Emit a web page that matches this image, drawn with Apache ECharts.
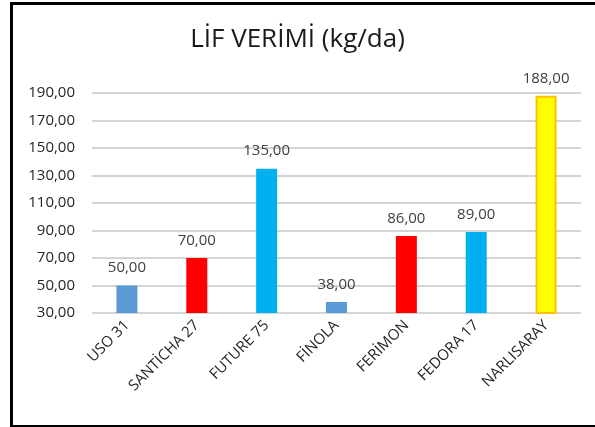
<!DOCTYPE html>
<html>
<head>
<meta charset="utf-8">
<script src="https://cdn.jsdelivr.net/npm/echarts@6/dist/echarts.min.js"></script>
<style>
  html, body { margin: 0; padding: 0; background: #fff; }
  #frame { position: absolute; left: 10px; top: 2px; width: 600px; height: 420px;
           border-left: 3px solid #000; border-top: 3px solid #000; border-bottom: 3px solid #000; }
  #chart { position: absolute; left: 0; top: 0; width: 595px; height: 427px; }
</style>
</head>
<body>
<div id="frame"></div>
<div id="chart"></div>
<script>
// Fibre yield per variety (kg/da)
const varieties = ['USO 31', 'SANTİCHA 27', 'FUTURE 75', 'FİNOLA', 'FERİMON', 'FEDORA 17', 'NARLISARAY'];
const yields = [50, 70, 135, 38, 86, 89, 188];
const barColors = ['#5B9BD5', '#FF0000', '#00B0F0', '#5B9BD5', '#FF0000', '#00B0F0', '#FFFF00'];
const barBorders = [null, null, null, null, null, null, '#FFC000'];

const fmt = v => v.toFixed(2).replace('.', ',');
const FONT = '"Open Sans", "Noto Sans", sans-serif';

const chart = echarts.init(document.getElementById('chart'), null, { renderer: 'canvas' });
chart.setOption({
  animation: false,
  title: {
    text: 'LİF VERİMİ (kg/da)',
    left: 'center',
    top: 22,
    textStyle: { fontFamily: FONT, fontSize: 26, fontWeight: 'normal', color: '#1a1a1a' }
  },
  grid: { left: 92, right: 14, top: 93, bottom: 114 },
  xAxis: {
    type: 'category',
    data: varieties,
    axisLine: { show: false },
    axisTick: { show: false },
    axisLabel: { rotate: 45, interval: 0, fontFamily: FONT, fontSize: 15, color: '#262626', margin: 10 }
  },
  yAxis: {
    type: 'value',
    min: 30,
    max: 190,
    interval: 20,
    axisLine: { show: false },
    axisTick: { show: false },
    axisLabel: { formatter: fmt, fontFamily: FONT, fontSize: 15, color: '#262626', margin: 17 },
    splitLine: { lineStyle: { color: '#d4d4d4', width: 2 } }
  },
  series: [{
    type: 'bar',
    barWidth: 21,
    data: yields.map((v, i) => ({
      value: v,
      itemStyle: {
        color: barColors[i],
        borderColor: barBorders[i] || barColors[i],
        borderWidth: barBorders[i] ? 2 : 0
      }
    })),
    label: {
      show: true,
      position: 'top',
      distance: 10,
      formatter: p => fmt(p.value),
      fontFamily: FONT,
      fontSize: 15,
      color: '#404040'
    }
  }]
});
</script>
</body>
</html>
